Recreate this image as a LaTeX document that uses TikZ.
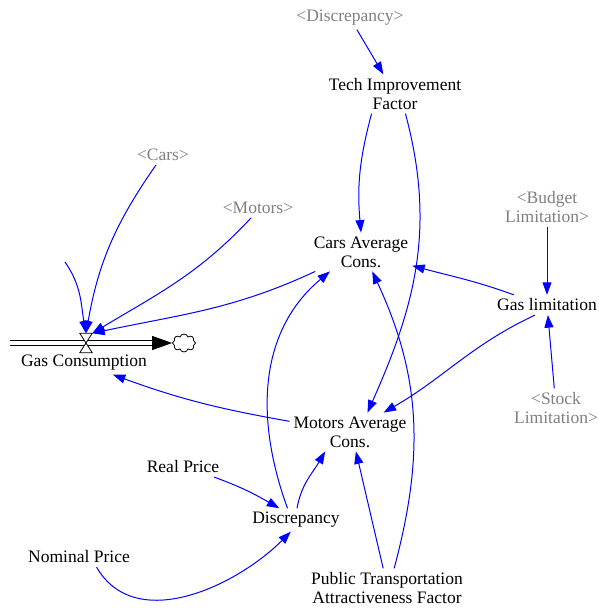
\documentclass[tikz,border=0pt]{standalone}
\usepackage{fontspec}
\setmainfont{Liberation Serif}
\usetikzlibrary{arrows.meta,shapes.symbols}
\definecolor{linkblue}{HTML}{0000FF}
\definecolor{shadowgray}{HTML}{808080}
\begin{document}
\begin{tikzpicture}[x=1pt,y=1pt,
 var/.style={align=center,inner sep=1pt,outer sep=3pt,font=\fontsize{17.5}{19}\selectfont},
 shadow/.style={var,text=shadowgray},
 link/.style={draw=linkblue,line width=1pt,-{Triangle[length=12.5pt,width=9pt]}},
 pipe/.style={draw=black,line width=0.9pt,double distance=3.5pt,-{Triangle[length=20pt,width=14pt]}}]
 \useasboundingbox (0,0) rectangle (598,608);
 \node[shadow] (discsh) at (350,590) {<Discrepancy>};
 \node[var] (tech) at (395,514) {Tech Improvement\\Factor};
 \node[shadow] (cars) at (163,453) {<Cars>};
 \node[shadow] (motors) at (258,400) {<Motors>};
 \node[shadow] (budget) at (547,401) {<Budget\\Limitation>};
 \node[var] (carcons) at (361,356) {Cars Average\\Cons.};
 \node[var] (gaslim) at (547,303) {Gas limitation};
 \node[var] (gascons) at (84,245) {Gas Consumption};
 \node[var] (motcons) at (350,176) {Motors Average\\Cons.};
 \node[shadow] (stock) at (556,200) {<Stock\\Limitation>};
 \node[var] (real) at (183,141) {Real Price};
 \node[var] (disc) at (296,88) {Discrepancy};
 \node[var] (nominal) at (79,51) {Nominal Price};
 \node[var] (public) at (387,20) {Public Transportation\\Attractiveness Factor};
 % flow
 \coordinate (source) at (10,265);
 \node[cloud,draw,line width=0.8pt,cloud puffs=8,aspect=1.3,minimum width=23pt,minimum height=18pt,inner sep=0pt] (sink) at (184,265) {};
 \draw[pipe] (source) -- (sink.west);
 \node[inner sep=0pt,minimum width=12pt,minimum height=19pt] (valve) at (86,265) {};
 \draw[line width=0.8pt,fill=white] (valve.north west) -- (valve.north east) -- (valve.south west) -- (valve.south east) -- cycle;
 \coordinate (stub) at (65,346);
 % links
 \draw[link] (discsh) -- (tech);
 \draw[link] (tech.220) to[out=255,in=95] (carcons.north);
 \draw[link] (tech.298) to[out=285,in=66] (motcons.48);
 \draw[link] (cars) to[out=235,in=80] (valve.north);
 \draw[link] (stub) to[out=-55,in=100] (valve.north);
 \draw[link] (motors.235) to[out=227,in=31] (valve.north east);
 \draw[link] (carcons.203) to[out=205,in=12] (valve.north east);
 \draw[link] (disc.126) to[out=110,in=220] (carcons.212);
 \draw[link] (disc.85) to[out=80,in=240] (motcons.218);
 \draw[link] (real.342) to[out=-20,in=150] (disc.145);
 \draw[link] (nominal.330) to[out=-60,in=225] (disc.246);
 \draw[link] (public.101) -- (motcons.287);
 \draw[link] (public.70) to[out=75,in=295] (carcons.300);
 \draw[link] (gaslim.163) to[out=160,in=-15] (carcons.345);
 \draw[link] (gaslim.220) to[out=205,in=30] (motcons.30);
 \draw[link] (budget) -- (gaslim);
 \draw[link] (stock) -- (gaslim);
 \draw[link] (motcons.170) to[out=170,in=-20] (gascons.338);
\end{tikzpicture}
\end{document}
